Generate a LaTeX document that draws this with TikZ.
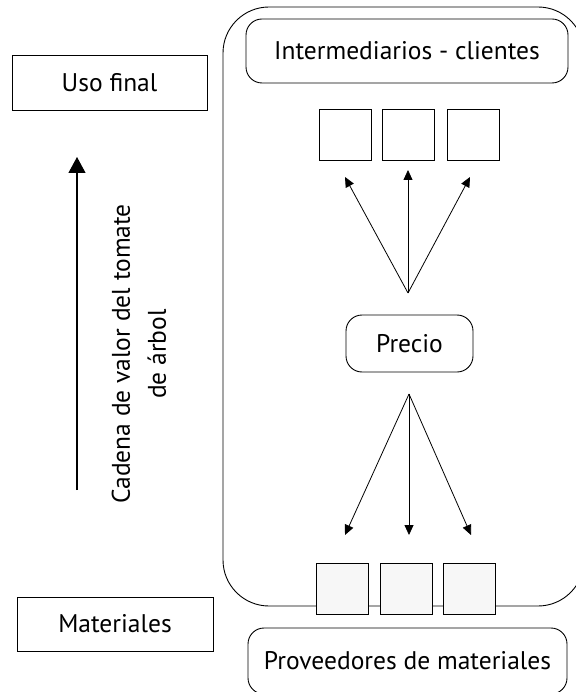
\documentclass[tikz,border=0pt]{standalone}
\usepackage{fontspec}
\setmainfont{PT Sans}
\usetikzlibrary{arrows.meta}
\begin{document}
\begin{tikzpicture}[x=1pt,y=-1pt,
  lbl/.style={font=\fontsize{25.5}{30}\selectfont},
  rbox/.style={draw,line width=0.9pt,rounded corners=16pt,inner sep=0pt},
  sbox/.style={draw,line width=0.9pt,inner sep=0pt},
  sq/.style={draw,line width=0.9pt,inner sep=0pt,minimum width=52pt,minimum height=51pt},
  sarr/.style={line width=0.8pt,-{Triangle[length=10pt,width=9pt]}},
  barr/.style={line width=1.2pt,-{Triangle[length=16pt,width=17pt]}}]
\useasboundingbox (0,0) rectangle (575,692);
% container
\draw[line width=0.9pt,rounded corners=46pt] (223,7) rectangle (584,606);
% top nodes
\node[rbox,lbl,minimum width=322pt,minimum height=64pt] (inter) at (407,51) {Intermediarios - clientes};
\node[sq] (t1) at (345.5,135) {};
\node[sq] (t2) at (408,135) {};
\node[sq] (t3) at (473,135) {};
\node[rbox,lbl,minimum width=127pt,minimum height=57pt] (precio) at (409.5,343.5) {Precio};
\coordinate (up) at (408,293);
\coordinate (u1) at (345,177);
\coordinate (u2) at (408,170);
\coordinate (u3) at (470,177);
\draw[sarr] (up) -- (u1);
\draw[sarr] (up) -- (u2);
\draw[sarr] (up) -- (u3);
\coordinate (dn) at (409,394);
\coordinate (d1) at (345,535);
\coordinate (d2) at (409,535);
\coordinate (d3) at (471,535);
\draw[sarr] (dn) -- (d1);
\draw[sarr] (dn) -- (d2);
\draw[sarr] (dn) -- (d3);
% bottom squares
\node[sq,fill=black!3] (b1) at (342.5,589) {};
\node[sq,fill=black!3] (b2) at (406.5,589) {};
\node[sq,fill=black!3] (b3) at (469,589) {};
\node[rbox,lbl,minimum width=319pt,minimum height=66pt] (prov) at (407.5,661) {Proveedores de materiales};
% left side
\node[sbox,lbl,minimum width=195pt,minimum height=55pt] (uso) at (109.5,82.5) {Uso final};
\node[sbox,lbl,minimum width=196pt,minimum height=54pt] (mat) at (115,624) {Materiales};
\coordinate (ab) at (77,490);
\coordinate (at) at (77,157);
\draw[barr] (ab) -- (at);
\node[lbl,rotate=90,align=center,font=\fontsize{25.5}{36}\selectfont] (cad) at (139,354) {Cadena de valor del tomate\\de árbol};
\end{tikzpicture}
\end{document}
